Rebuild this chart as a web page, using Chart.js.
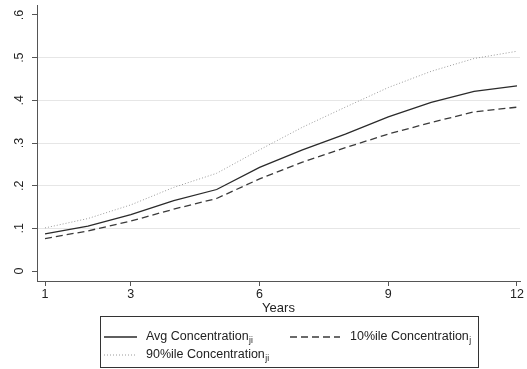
<!DOCTYPE html>
<html>
<head>
<meta charset="utf-8">
<script src="https://cdn.jsdelivr.net/npm/chart.js@4.4.1/dist/chart.umd.min.js"></script>
<style>
  html, body { margin: 0; padding: 0; background: #fff; }
  canvas { display: block; }
</style>
</head>
<body>
<canvas id="myChart" width="527" height="369"></canvas>
<script>
// values
let years = [1, 2, 3, 4, 5, 6, 7, 8, 9, 10, 11, 12];
let avgConc = [0.087, 0.105, 0.132, 0.165, 0.191, 0.243, 0.284, 0.321, 0.361, 0.395, 0.421, 0.434];
let p10Conc = [0.076, 0.094, 0.117, 0.145, 0.170, 0.216, 0.255, 0.289, 0.321, 0.348, 0.373, 0.384];
let p90Conc = [0.101, 0.123, 0.155, 0.196, 0.229, 0.284, 0.337, 0.384, 0.430, 0.468, 0.498, 0.515];
let xTicks = [1, 3, 6, 9, 12];
let yTicks = [0, 0.1, 0.2, 0.3, 0.4, 0.5, 0.6];
let xTitle = "Years";
let legendItems = [
  { text: "Avg Concentration", sub: "ji" },
  { text: "10%ile Concentration", sub: "j" },
  { text: "90%ile Concentration", sub: "ji" },
];

const FONT = "Liberation Sans, Arial, sans-serif";
const AXIS = "#555";

function toPoints(vals) {
  return years.map((y, i) => ({ x: y, y: vals[i] }));
}

function yLabel(v) {
  if (v === 0) return "0";
  return "." + Math.round(v * 10);
}

// y labels (rotated), x title and the legend box
const extras = {
  id: "extras",
  afterDraw(chart) {
    const ctx = chart.ctx;
    const ys = chart.scales.y;
    const area = chart.chartArea;
    ctx.save();
    ctx.fillStyle = "#222";
    ctx.font = "12.5px " + FONT;
    ctx.textAlign = "center";
    ctx.textBaseline = "middle";
    yTicks.forEach((v) => {
      ctx.save();
      ctx.translate(20, ys.getPixelForValue(v));
      ctx.rotate(-Math.PI / 2);
      ctx.fillText(yLabel(v), 0, 0);
      ctx.restore();
    });
    ctx.font = "13px " + FONT;
    ctx.fillText(xTitle, (area.left + area.right) / 2, 308);

    // legend
    ctx.strokeStyle = "#333";
    ctx.lineWidth = 1;
    ctx.strokeRect(100.5, 316.5, 378, 51);
    const ds = chart.data.datasets;
    const pos = [
      { lx: 104, tx: 146, y: 337 },
      { lx: 290, tx: 350, y: 337 },
      { lx: 104, tx: 146, y: 355 },
    ];
    const lens = [33, 50, 33];
    legendItems.forEach((it, i) => {
      const p = pos[i];
      ctx.save();
      ctx.strokeStyle = ds[i].borderColor;
      ctx.lineWidth = ds[i].borderWidth;
      ctx.setLineDash(ds[i].borderDash || []);
      ctx.beginPath();
      ctx.moveTo(p.lx, p.y);
      ctx.lineTo(p.lx + lens[i], p.y);
      ctx.stroke();
      ctx.restore();
      ctx.textAlign = "left";
      ctx.font = "12.5px " + FONT;
      ctx.fillText(it.text, p.tx, p.y);
      const w = ctx.measureText(it.text).width;
      ctx.font = "8.5px " + FONT;
      ctx.fillText(it.sub, p.tx + w + 0.5, p.y + 4);
    });
    ctx.restore();
  },
};

let myChart = document.getElementById("myChart").getContext("2d");

var chart = new Chart(myChart, {
  type: "line",
  data: {
    datasets: [
      {
        label: "Avg Concentration",
        data: toPoints(avgConc),
        borderColor: "#2a2a2a",
        borderWidth: 1.3,
        pointRadius: 0,
        fill: false,
      },
      {
        label: "10%ile Concentration",
        data: toPoints(p10Conc),
        borderColor: "#3a3a3a",
        borderWidth: 1.3,
        borderDash: [7, 4],
        pointRadius: 0,
        fill: false,
      },
      {
        label: "90%ile Concentration",
        data: toPoints(p90Conc),
        borderColor: "#9a9a9a",
        borderWidth: 1,
        borderDash: [1, 2],
        pointRadius: 0,
        fill: false,
      },
    ],
  },
  options: {
    responsive: false,
    animation: false,
    layout: { padding: { top: 5, right: 7, left: 0, bottom: 0 } },
    plugins: {
      legend: { display: false },
      tooltip: { enabled: false },
    },
    scales: {
      x: {
        type: "linear",
        min: 0.813,
        max: 12.07,
        afterBuildTicks: (s) => { s.ticks = xTicks.map((v) => ({ value: v })); },
        afterFit: (s) => { s.height = 88; },
        ticks: {
          color: "#222",
          font: { family: FONT, size: 12.5 },
          padding: 1,
          maxRotation: 0,
          autoSkip: false,
        },
        grid: { drawOnChartArea: false, tickLength: 5, tickColor: AXIS },
        border: { color: AXIS, width: 1 },
      },
      y: {
        min: -0.0234,
        max: 0.6234,
        afterBuildTicks: (s) => { s.ticks = yTicks.map((v) => ({ value: v })); },
        afterFit: (s) => { s.width = 37; },
        ticks: { display: false },
        grid: {
          tickLength: 5,
          tickColor: AXIS,
          color: (c) => {
            let v = c.tick ? c.tick.value : 0;
            return v > 0.05 && v < 0.55 ? "#e6e6e6" : "rgba(0,0,0,0)";
          },
        },
        border: { color: AXIS, width: 1 },
      },
    },
  },
  plugins: [extras],
});
</script>
</body>
</html>
